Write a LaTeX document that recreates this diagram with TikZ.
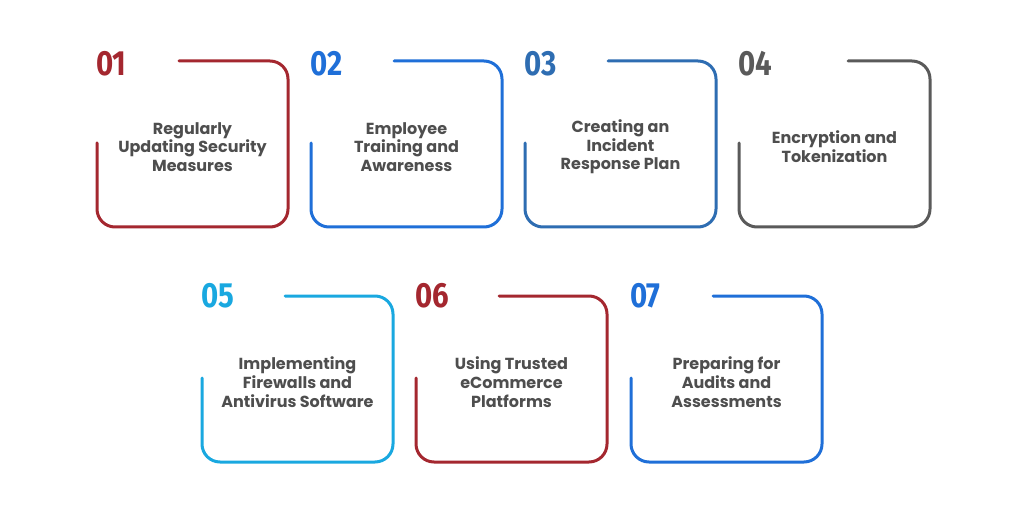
\documentclass[tikz,border=0pt]{standalone}
\usepackage{fontspec}
\setmainfont{Poppins}
\newfontfamily\numfont[FakeStretch=0.84]{Fira Sans}
\definecolor{cred}{HTML}{A4272F}
\definecolor{cblue}{HTML}{1F6FD8}
\definecolor{csteel}{HTML}{2E6DB2}
\definecolor{cgray}{HTML}{5A5A5A}
\definecolor{ccyan}{HTML}{19A8E0}
\definecolor{txt}{HTML}{4E4E4E}
\tikzset{
  cardline/.style={line width=3pt, rounded corners=18pt, line cap=round},
  cardnum/.style={font=\numfont\bfseries\fontsize{35}{35}\selectfont, anchor=base west, inner sep=0pt},
  cardtext/.style={font=\bfseries\fontsize{16}{18.7}\selectfont, text=txt, align=center, inner sep=0pt}
}
% #1 name, #2 x, #3 y, #4 colour, #5 number, #6 text, #7 top line start x, #8 number baseline offset
\newcommand\cardbox[8]{%
  \draw[cardline,#4] (#2,#3+82) -- (#2,#3+166) -- (#2+191,#3+166) -- (#2+191,#3) -- (#7,#3);
  \node[cardnum,text=#4] (#1num) at (#2-1,#3+#8) {#5};
  \node[cardtext] (#1txt) at (#2+95.5,#3+86) {#6};
}
\begin{document}
\begin{tikzpicture}[x=1pt,y=-1pt]
\useasboundingbox[fill=white] (0,0) rectangle (1024,510);
\cardbox{a}{97}{61}{cred}{01}{Regularly\\Updating Security\\Measures}{179}{15}
\cardbox{b}{311}{61}{cblue}{02}{Employee\\Training and\\Awareness}{394}{15}
\cardbox{c}{525}{61}{csteel}{03}{Creating an\\Incident\\Response Plan}{608}{15}
\cardbox{d}{739}{61}{cgray}{04}{Encryption and\\Tokenization}{848}{15}
\cardbox{e}{202}{296}{ccyan}{05}{Implementing\\Firewalls and\\Antivirus Software}{285}{12}
\cardbox{f}{416}{296}{cred}{06}{Using Trusted\\eCommerce\\Platforms}{499}{12}
\cardbox{g}{631}{296}{cblue}{07}{Preparing for\\Audits and\\Assessments}{713}{12}
\end{tikzpicture}
\end{document}
